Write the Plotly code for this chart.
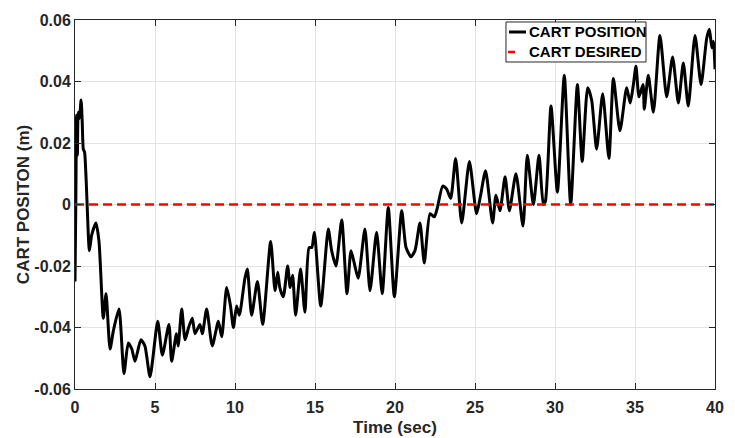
import plotly.graph_objects as go

# Time (sec) and cart position (m)
time_s = [0.0, 0.05, 0.1, 0.15, 0.2, 0.28, 0.38, 0.45, 0.52, 0.6, 0.9, 1.04, 1.31, 1.5,
          1.77, 1.94, 2.19, 2.4, 2.75, 3.06, 3.33, 3.55, 3.75, 4.12, 4.37, 4.69, 5.17, 5.46,
          5.87, 6.04, 6.34, 6.45, 6.67, 6.88, 7.1, 7.33, 7.5, 7.81, 7.96, 8.23, 8.58, 8.96,
          9.17, 9.48, 9.72, 9.9, 10.1, 10.27, 10.62, 10.77, 11.04, 11.4, 11.73, 12.23, 12.5,
          12.67, 12.8, 13.02, 13.29, 13.45, 13.6, 13.79, 14.1, 14.37, 14.63, 14.8, 14.96,
          15.36, 15.83, 16.04, 16.31, 16.67, 17.0, 17.25, 17.45, 17.7, 18.12, 18.44, 18.85,
          19.2, 19.58, 19.96, 20.42, 20.69, 21.0, 21.25, 21.56, 21.83, 22.19, 22.46, 22.65,
          22.98, 23.23, 23.48, 23.79, 24.17, 24.65, 25.1, 25.35, 25.66, 26.1, 26.31, 26.56,
          26.88, 27.15, 27.56, 28.0, 28.27, 28.65, 29.0, 29.27, 29.4, 29.75, 30.15, 30.58,
          30.98, 31.4, 31.7, 32.04, 32.29, 32.6, 32.98, 33.37, 33.65, 34.06, 34.48, 34.7,
          34.9, 35.06, 35.25, 35.5, 35.58, 35.83, 36.15, 36.56, 36.98, 37.35, 37.71, 38.02,
          38.33, 38.75, 39.13, 39.48, 39.65, 39.8, 39.9, 40.0]
cart_position = [-0.025, 0.000, 0.029, 0.016, 0.030, 0.028, 0.034, 0.027, 0.018, 0.017,
                 -0.015, -0.010, -0.006, -0.012, -0.037, -0.029, -0.047, -0.041, -0.034,
                 -0.055, -0.045, -0.047, -0.051, -0.044, -0.046, -0.056, -0.038, -0.049,
                 -0.039, -0.051, -0.042, -0.046, -0.034, -0.044, -0.040, -0.037, -0.042,
                 -0.039, -0.042, -0.034, -0.046, -0.038, -0.043, -0.027, -0.033, -0.040,
                 -0.033, -0.036, -0.024, -0.021, -0.036, -0.025, -0.039, -0.012, -0.028,
                 -0.022, -0.027, -0.030, -0.020, -0.027, -0.023, -0.036, -0.021, -0.035,
                 -0.014, -0.014, -0.009, -0.033, -0.008, -0.015, -0.020, -0.005, -0.029,
                 -0.015, -0.019, -0.024, -0.008, -0.028, -0.009, -0.029, -0.001, -0.030,
                 -0.002, -0.014, -0.017, -0.015, -0.006, -0.019, -0.003, -0.004, -0.001,
                 0.006, 0.005, 0.002, 0.015, -0.006, 0.014, -0.003, 0.003, 0.011, -0.006,
                 0.003, -0.002, 0.009, -0.002, 0.010, -0.007, 0.016, 0.000, 0.016, 0.000,
                 0.001, 0.032, 0.004, 0.042, 0.000, 0.039, 0.014, 0.038, 0.034, 0.018,
                 0.036, 0.015, 0.041, 0.024, 0.038, 0.033, 0.039, 0.045, 0.035, 0.039,
                 0.031, 0.042, 0.030, 0.055, 0.035, 0.048, 0.033, 0.046, 0.032, 0.055,
                 0.039, 0.054, 0.057, 0.051, 0.053, 0.044]
desired_time = [0, 40]
desired_position = [0, 0]

x_ticks = [0, 5, 10, 15, 20, 25, 30, 35, 40]
y_ticks = [-0.06, -0.04, -0.02, 0, 0.02, 0.04, 0.06]
y_tick_labels = ["-0.06", "-0.04", "-0.02", "0", "0.02", "0.04", "0.06"]
legend_labels = ["CART POSITION", "CART DESIRED"]

FONT = "Liberation Sans, Arial, sans-serif"
AXC = "#262626"
POS_COLOR = "black"
DES_COLOR = "#ff0000"

fig = go.Figure()
fig.add_trace(go.Scatter(x=time_s, y=cart_position, mode="lines", name=legend_labels[0],
                         line=dict(color=POS_COLOR, width=3, shape="spline", smoothing=0.6)))
fig.add_trace(go.Scatter(x=desired_time, y=desired_position, mode="lines", name=legend_labels[1],
                         line=dict(color=DES_COLOR, width=2.5, dash="9px,5px")))

axis_common = dict(showline=True, linecolor=AXC, linewidth=1, mirror="ticks",
                   ticks="inside", ticklen=6, tickcolor=AXC, showgrid=True,
                   gridcolor="#e3e3e3", gridwidth=1, zeroline=False, automargin=False,
                   tickfont=dict(family=FONT, size=16, color=AXC, weight="bold"))

fig.update_xaxes(range=[0, 40], tickvals=x_ticks, ticklabelstandoff=4, **axis_common,
                 title=dict(text="Time (sec)", font=dict(family=FONT, size=17, color=AXC, weight="bold"),
                            standoff=5))
fig.update_yaxes(range=[-0.06, 0.06], tickvals=y_ticks, ticktext=y_tick_labels, **axis_common,
                 title=dict(text="CART POSITON (m)", font=dict(family=FONT, size=17, color=AXC, weight="bold"),
                            standoff=0))

# Legend box in MATLAB style (paper coordinates of the plot area)
lx0, lx1, ly0, ly1 = 0.6734, 0.8922, 0.8862, 0.9946
row_y = [0.9675, 0.9133]
shapes = [
    dict(type="rect", xref="paper", yref="paper", x0=lx0, x1=lx1, y0=ly0, y1=ly1,
         line=dict(color=AXC, width=1), fillcolor="white", layer="above"),
    dict(type="line", xref="paper", yref="paper", x0=0.6781, x1=0.7047, y0=row_y[0], y1=row_y[0],
         line=dict(color=POS_COLOR, width=3), layer="above"),
    dict(type="line", xref="paper", yref="paper", x0=0.6766, x1=0.6875, y0=row_y[1], y1=row_y[1],
         line=dict(color=DES_COLOR, width=2.5), layer="above"),
]
annotations = [
    dict(text=lab, xref="paper", yref="paper", x=0.7055, y=yy, xanchor="left", yanchor="middle",
         showarrow=False, font=dict(family=FONT, size=15, color="black", weight="bold"))
    for lab, yy in zip(legend_labels, row_y)
]

fig.update_layout(
    width=735, height=438,
    margin=dict(l=75, r=20, t=20, b=49),
    paper_bgcolor="white", plot_bgcolor="white",
    showlegend=False,
    shapes=shapes, annotations=annotations,
)

fig.write_html("out.html")
